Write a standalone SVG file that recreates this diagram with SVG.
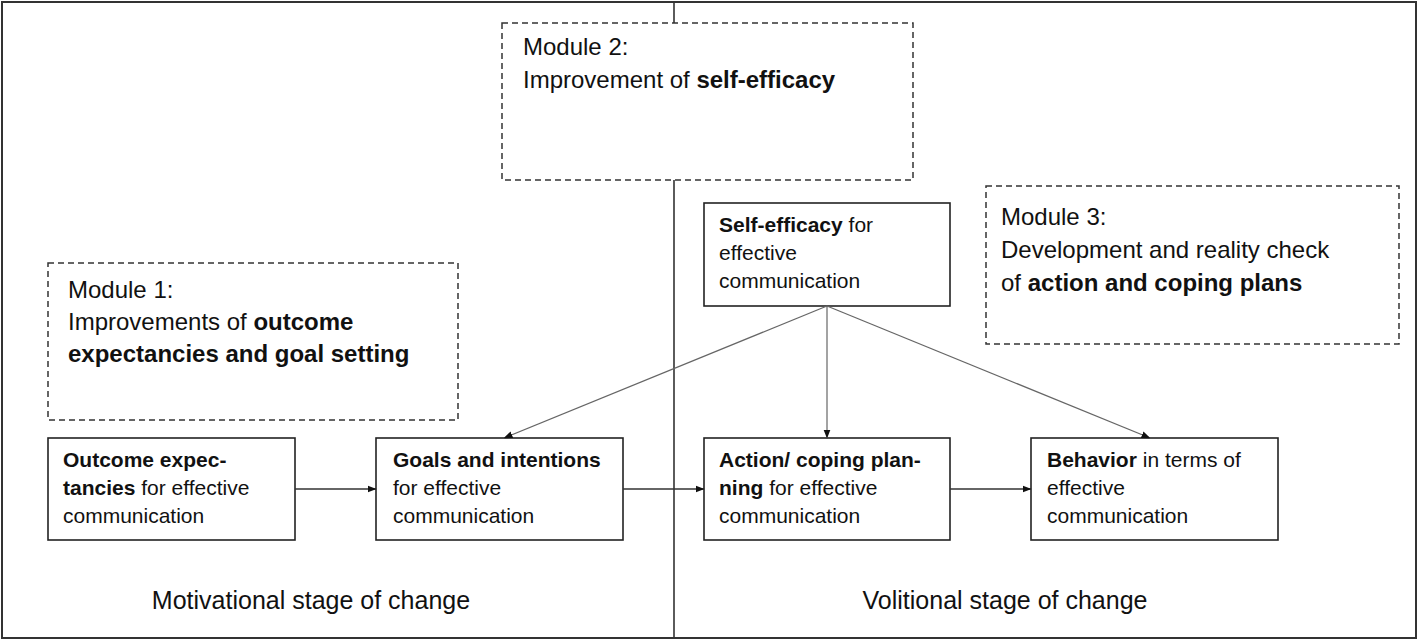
<svg xmlns="http://www.w3.org/2000/svg" width="1418" height="642" viewBox="0 0 1418 642">
<style>
text{font-family:"Liberation Sans",Arial,sans-serif;fill:#111}
.n{font-size:21px}
.m{font-size:24px}
.s{font-size:25px}
b,.b{font-weight:bold}
.box{fill:#fff;stroke:#222;stroke-width:1.6}
.mod{fill:#fff;stroke:#333;stroke-width:1.5;stroke-dasharray:6 4}
.frame{fill:none;stroke:#333;stroke-width:2}
.c{stroke:#333;stroke-width:1.3;fill:none;marker-end:url(#ah)}
.d{stroke:#666;stroke-width:1.2;fill:none;marker-end:url(#ah)}
</style>
<defs>
<marker id="ah" markerWidth="9" markerHeight="8" refX="8.5" refY="4" orient="auto" markerUnits="userSpaceOnUse">
<path d="M0,0.5 L9,4 L0,7.5 Z" fill="#111"/>
</marker>
</defs>
<rect width="1418" height="642" fill="#fff"/>
<g id="frame">
<rect class="frame" x="2" y="2" width="1414" height="636"/>
<line x1="674" y1="2" x2="674" y2="638" stroke="#333" stroke-width="1.6"/>
</g>
<g id="module2">
<rect class="mod" x="502" y="23" width="411" height="157"/>
<text class="m" x="523" y="55">Module 2:</text>
<text class="m" x="523" y="88">Improvement of <tspan class="b">self-efficacy</tspan></text>
</g>
<g id="module1">
<rect class="mod" x="48" y="263" width="410" height="157"/>
<text class="m" x="68" y="298">Module 1:</text>
<text class="m" x="68" y="330">Improvements of <tspan class="b">outcome</tspan></text>
<text class="m b" x="68" y="362">expectancies and goal setting</text>
</g>
<g id="module3">
<rect class="mod" x="986" y="186" width="413" height="158"/>
<text class="m" x="1001" y="225">Module 3:</text>
<text class="m" x="1001" y="258">Development and reality check</text>
<text class="m" x="1001" y="291">of <tspan class="b">action and coping plans</tspan></text>
</g>
<g id="selfefficacy">
<rect class="box" x="704" y="203" width="246" height="103"/>
<text class="n" x="719" y="232"><tspan class="b">Self-efficacy</tspan> for</text>
<text class="n" x="719" y="260">effective</text>
<text class="n" x="719" y="288">communication</text>
</g>
<g id="outcome">
<rect class="box" x="48" y="438" width="247" height="102"/>
<text class="n b" x="63" y="467">Outcome expec-</text>
<text class="n" x="63" y="495"><tspan class="b">tancies</tspan> for effective</text>
<text class="n" x="63" y="523">communication</text>
</g>
<g id="goals">
<rect class="box" x="376" y="438" width="247" height="102"/>
<text class="n b" x="393" y="467">Goals and intentions</text>
<text class="n" x="393" y="495">for effective</text>
<text class="n" x="393" y="523">communication</text>
</g>
<g id="action">
<rect class="box" x="704" y="438" width="246" height="102"/>
<text class="n b" x="719" y="467">Action/ coping plan-</text>
<text class="n" x="719" y="495"><tspan class="b">ning</tspan> for effective</text>
<text class="n" x="719" y="523">communication</text>
</g>
<g id="behavior">
<rect class="box" x="1031" y="438" width="247" height="102"/>
<text class="n" x="1047" y="467"><tspan class="b">Behavior</tspan> in terms of</text>
<text class="n" x="1047" y="495">effective</text>
<text class="n" x="1047" y="523">communication</text>
</g>
<g id="connectors">
<line class="c" x1="295" y1="489" x2="376" y2="489"/>
<line class="c" x1="623" y1="489" x2="704" y2="489"/>
<line class="c" x1="950" y1="489" x2="1031" y2="489"/>
<line class="d" x1="827" y1="306" x2="504" y2="438"/>
<line class="d" x1="827" y1="306" x2="827" y2="438"/>
<line class="d" x1="827" y1="306" x2="1150" y2="438"/>
</g>
<g id="labels">
<text class="s" x="311" y="609" text-anchor="middle">Motivational stage of change</text>
<text class="s" x="1005" y="609" text-anchor="middle">Volitional stage of change</text>
</g>
</svg>
